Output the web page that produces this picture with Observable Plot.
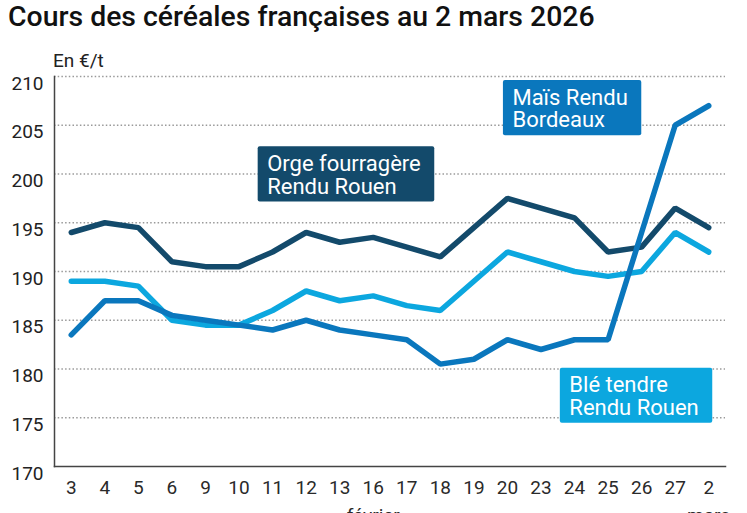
<!DOCTYPE html>
<html><head><meta charset="utf-8">
<script src="https://cdn.jsdelivr.net/npm/d3@7"></script>
<script src="https://cdn.jsdelivr.net/npm/@observablehq/plot@0.6"></script>
<style>
body{margin:0;background:#fff;}
#chart{width:747px;height:513px;overflow:hidden;position:relative;}
</style>
</head><body><div id="chart"></div>
<script>
// ---- data ----
const title = "Cours des céréales françaises au 2 mars 2026";
const unitLabel = "En €/t";
const dates = ["3","4","5","6","9","10","11","12","13","16","17","18","19","20","23","24","25","26","27","2"];
const orge = [194,195,194.5,191,190.5,190.5,192,194,193,193.5,192.5,191.5,194.5,197.5,196.5,195.5,192,192.5,196.5,194.5];
const ble  = [189,189,188.5,185,184.5,184.5,186,188,187,187.5,186.5,186,189,192,191,190,189.5,190,194,192];
const mais = [183.5,187,187,185.5,185,184.5,184,185,184,183.5,183,180.5,181,183,182,183,183,194,205,207];
const seriesNames = ["Orge fourragère\nRendu Rouen","Blé tendre\nRendu Rouen","Maïs Rendu\nBordeaux"];
const yTicks = [170,175,180,185,190,195,200,205,210];
const months = ["février","mars"];
const monthAt = ["16","2"];

const cOrge = "#134a6b", cBle = "#0ca7df", cMais = "#0a77bd";
const toRows = (vals, s) => dates.map((d,i)=>({date:d, value:vals[i], series:s}));
const rOrge = toRows(orge, seriesNames[0]);
const rBle = toRows(ble, seriesNames[1]);
const rMais = toRows(mais, seriesNames[2]);
const monthRows = months.map((m,i)=>({date:monthAt[i], label:m}));

const lineOpts = {x:"date", y:"value", strokeWidth:5.5, strokeLinejoin:"miter", strokeLinecap:"round"};
const labelOpts = {textAnchor:"start", lineAnchor:"bottom", fontSize:22, fill:"white", lineHeight:1.03};

const plot = Plot.plot({
  width:747, height:513,
  marginTop:76, marginBottom:47, marginLeft:54, marginRight:22,
  style:{fontFamily:"Roboto, sans-serif", fontSize:"19px", color:"#222", background:"white"},
  x:{type:"band", domain:dates, padding:0, round:false},
  y:{domain:[170,210]},
  marks:[
    Plot.gridY(yTicks.filter(t=>t>170), {stroke:"#9a9a9a", strokeOpacity:1, strokeWidth:1.5, strokeDasharray:"1.5,2.2"}),
    Plot.axisY(yTicks, {tickSize:0, tickPadding:11, dy:7, label:null, fontSize:19, fill:"#222"}),
    Plot.axisX({tickSize:0, tickPadding:13.5, label:null, fontSize:19, fill:"#2a2a2a"}),
    Plot.frame({anchor:"left", stroke:"#444", strokeWidth:1.5}),
    Plot.frame({anchor:"bottom", stroke:"#444", strokeWidth:1.5}),
    Plot.text(monthRows, {x:"date", text:"label", frameAnchor:"bottom", lineAnchor:"bottom", dy:55, fontSize:19, fill:"#2a2a2a"}),
    Plot.line(rOrge, {...lineOpts, stroke:cOrge}),
    Plot.line(rBle, {...lineOpts, stroke:cBle}),
    Plot.line(rMais, {...lineOpts, stroke:cMais}),
    Plot.text([rOrge[0]], {...labelOpts, x:()=>"11", y:()=>198, text:"series", dx:-5.4}),
    Plot.text([rMais[0]], {...labelOpts, x:()=>"20", y:()=>204.8, text:"series", dx:5}),
    Plot.text([rBle[0]], {...labelOpts, x:()=>"24", y:()=>175.3, text:"series", dx:-5.2})
  ]
});
document.getElementById("chart").appendChild(plot);

const svg = d3.select(plot);
const labelColors = [cOrge, cBle, cMais];
svg.selectAll("text").each(function(){
  const idx = seriesNames.findIndex(n => n.replace("\n","") === this.textContent);
  if (idx < 0) return;
  const bb = this.getBBox();
  const node = this;
  d3.select(this.parentNode).insert("rect", ()=>node)
    .attr("x", bb.x - 9.5).attr("y", bb.y - 4.5)
    .attr("width", bb.width + 23).attr("height", bb.height + 7.5)
    .attr("rx", 2).attr("fill", labelColors[idx])
    .attr("transform", this.getAttribute("transform"));
});
svg.append("text").text(title)
  .attr("x", 8).attr("y", 26).attr("text-anchor","start")
  .attr("font-family","Roboto, sans-serif").attr("font-weight",500).attr("font-size",28.4).attr("fill","#111");
svg.append("text").text(unitLabel)
  .attr("x", 53).attr("y", 66.5).attr("text-anchor","start")
  .attr("font-family","Roboto, sans-serif").attr("font-size",19).attr("fill","#222");
</script>
</body></html>
